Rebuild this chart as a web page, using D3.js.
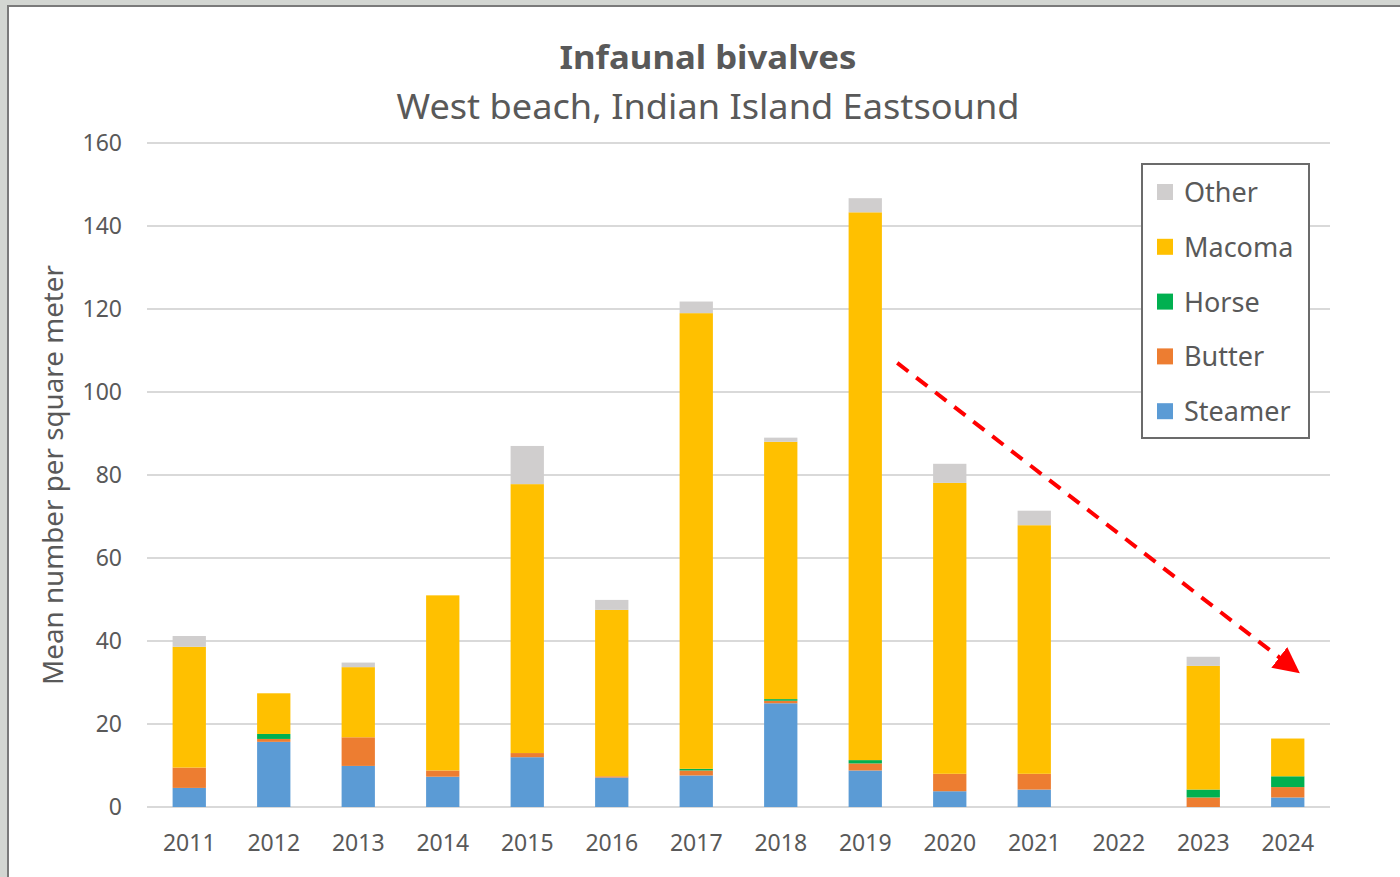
<!DOCTYPE html>
<meta charset="utf-8">
<head>
<style>
body { margin: 0; background: #d3d6d2; font-family: "Noto Sans", sans-serif; }
.grid line { stroke: #d9d9d9; stroke-width: 2px; shape-rendering: crispEdges; }
.axis text { fill: #595959; }
</style>
<script src="https://d3js.org/d3.v7.min.js"></script>
</head>
<body>
<div id="chart"></div>
<script>

var years   = ["2011","2012","2013","2014","2015","2016","2017","2018","2019","2020","2021","2022","2023","2024"];
var steamer = [4.6, 15.7, 9.9, 7.3, 12.0, 7.1, 7.6, 25.0, 8.8, 3.8, 4.2, 0, 0, 2.3];
var butter  = [4.9, 0.7, 6.9, 1.5, 1.0, 0.3, 1.2, 0.6, 1.7, 4.2, 3.8, 0, 2.3, 2.5];
var horse   = [0, 1.2, 0, 0, 0, 0, 0.4, 0.4, 0.8, 0, 0, 0, 1.9, 2.6];
var macoma  = [29.1, 9.8, 16.9, 42.2, 64.8, 40.1, 109.8, 62.0, 132.0, 70.1, 59.9, 0, 29.8, 9.1];
var other   = [2.6, 0, 1.1, 0, 9.2, 2.4, 2.8, 1.0, 3.4, 4.6, 3.5, 0, 2.2, 0];
var seriesNames = ["Steamer", "Butter", "Horse", "Macoma", "Other"];
var yTicks = [0, 20, 40, 60, 80, 100, 120, 140, 160];
// trend arrow annotation: [year, value]
var arrowFrom = ["2019", 107];
var arrowTo   = ["2024", 33];

var colors = {Steamer: "#5b9bd5", Butter: "#ed7d31", Horse: "#00b050", Macoma: "#ffc000", Other: "#d0cece"};

var W = 1400, H = 877;
var svg = d3.select("#chart").append("svg")
  .attr("width", W).attr("height", H);

// card
svg.append("rect")
  .attr("x", 8).attr("y", 6).attr("width", W + 10).attr("height", H + 10)
  .attr("fill", "#fff").attr("stroke", "#7a7a7a").attr("stroke-width", 2);

var data = years.map(function(y, i) {
  return {year: y, Steamer: steamer[i], Butter: butter[i], Horse: horse[i], Macoma: macoma[i], Other: other[i]};
});

var x = d3.scaleBand().domain(years).range([147, 1330]).paddingInner(0.606).paddingOuter(0.303);
var y = d3.scaleLinear().domain([0, 160]).range([807, 143]);

// gridlines
svg.append("g").attr("class", "grid")
  .selectAll("line").data(yTicks).enter().append("line")
  .attr("x1", 147).attr("x2", 1330)
  .attr("y1", function(d) { return Math.round(y(d)); })
  .attr("y2", function(d) { return Math.round(y(d)); });

// y tick labels
svg.append("g").attr("class", "axis")
  .selectAll("text").data(yTicks).enter().append("text")
  .attr("x", 122).attr("y", function(d) { return y(d) + 8; })
  .attr("text-anchor", "end").style("font-size", "23px")
  .text(function(d) { return d; });

// x labels
svg.append("g").attr("class", "axis")
  .selectAll("text").data(years).enter().append("text")
  .attr("x", function(d) { return x(d) + x.bandwidth() / 2; })
  .attr("y", 851).attr("text-anchor", "middle").style("font-size", "23px")
  .text(function(d) { return d; });

// stacked bars
var stack = d3.stack().keys(seriesNames);
svg.append("g").selectAll("g").data(stack(data)).enter().append("g")
  .attr("fill", function(d) { return colors[d.key]; })
  .selectAll("rect").data(function(d) { return d; }).enter().append("rect")
  .attr("x", function(d) { return x(d.data.year); })
  .attr("width", x.bandwidth())
  .attr("y", function(d) { return y(d[1]); })
  .attr("height", function(d) { return y(d[0]) - y(d[1]); });

// titles
svg.append("text").attr("x", 708).attr("y", 69).attr("text-anchor", "middle")
  .style("font-size", "33px").style("font-weight", "bold").attr("fill", "#595959")
  .attr("textLength", 297).attr("lengthAdjust", "spacingAndGlyphs")
  .text("Infaunal bivalves");
svg.append("text").attr("x", 708).attr("y", 119).attr("text-anchor", "middle")
  .style("font-size", "34px").attr("fill", "#595959")
  .attr("textLength", 623).attr("lengthAdjust", "spacingAndGlyphs")
  .text("West beach, Indian Island Eastsound");

// y axis title
svg.append("text")
  .attr("transform", "translate(63,475) rotate(-90)")
  .attr("text-anchor", "middle").style("font-size", "27px").attr("fill", "#595959")
  .attr("textLength", 420).attr("lengthAdjust", "spacingAndGlyphs")
  .text("Mean number per square meter");

// arrow
svg.append("defs").append("marker")
  .attr("id", "head").attr("viewBox", "0 0 10 10")
  .attr("refX", 8).attr("refY", 5)
  .attr("markerWidth", 6.5).attr("markerHeight", 6.5)
  .attr("orient", "auto")
  .append("path").attr("d", "M0,0 L10,5 L0,10 Z").attr("fill", "#ff0000");

svg.append("line")
  .attr("x1", x(arrowFrom[0]) + x.bandwidth() / 2 + 32).attr("y1", y(arrowFrom[1]))
  .attr("x2", x(arrowTo[0]) + x.bandwidth() / 2 + 8).attr("y2", y(arrowTo[1]))
  .attr("stroke", "#ff0000").attr("stroke-width", 4)
  .attr("stroke-dasharray", "14,10")
  .attr("marker-end", "url(#head)");

// legend
var legend = svg.append("g");
legend.append("rect")
  .attr("x", 1142).attr("y", 164).attr("width", 167).attr("height", 274)
  .attr("fill", "#fff").attr("stroke", "#6b6b6b").attr("stroke-width", 2);
var legItems = seriesNames.slice().reverse();
var li = legend.selectAll("g.item").data(legItems).enter().append("g")
  .attr("transform", function(d, i) { return "translate(1157," + (192 + i * 54.8) + ")"; });
li.append("rect").attr("x", 0).attr("y", -8).attr("width", 16).attr("height", 16)
  .attr("fill", function(d) { return colors[d]; });
li.append("text").attr("x", 27).attr("y", 10).style("font-size", "27px").attr("fill", "#595959")
  .text(function(d) { return d; });

</script>
</body>
</html>
